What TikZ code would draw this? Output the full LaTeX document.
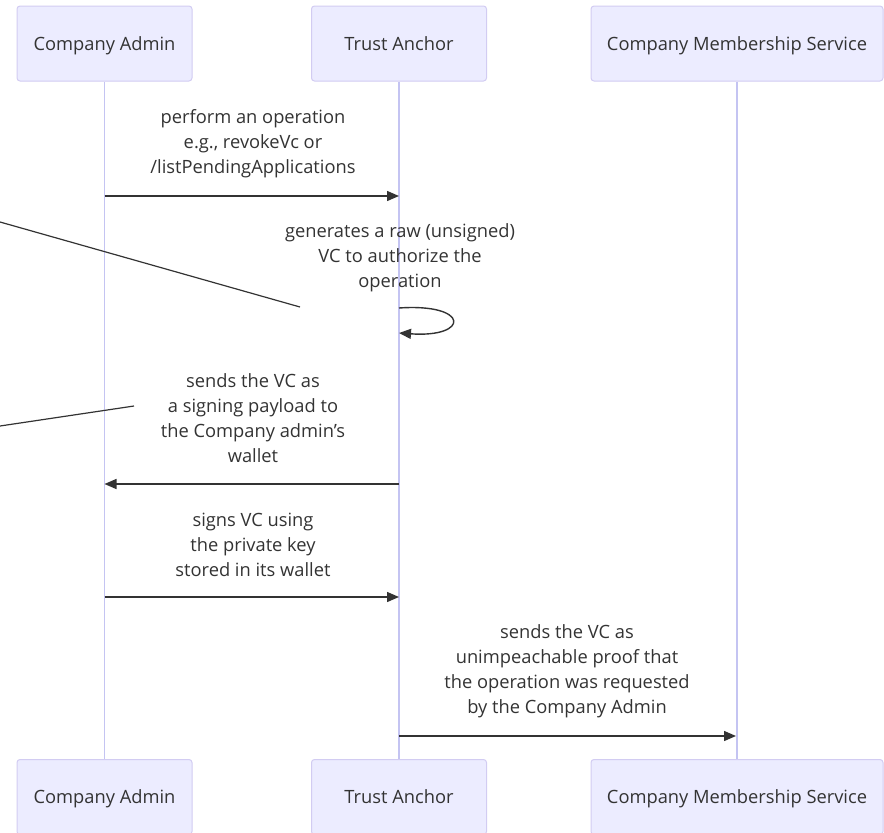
\documentclass[tikz,border=0pt]{standalone}
\usepackage{fontspec}
\setmainfont{Open Sans}
\usetikzlibrary{arrows.meta}
\definecolor{actorfill}{HTML}{ECECFF}
\definecolor{actorline}{HTML}{D2CCF2}
\definecolor{lifeline}{HTML}{C4C4F2}
\definecolor{ink}{HTML}{333333}
\tikzset{
  actor/.style={draw=actorline, fill=actorfill, line width=1pt, rounded corners=3pt,
    text=ink, font=\fontsize{18.3}{22}\selectfont, inner sep=0pt,
    text height=14pt, text depth=1pt},
  life/.style={draw=lifeline, line width=1.6pt},
  msg/.style={draw=ink, line width=1.4pt, -{Triangle[length=12pt,width=10pt]}},
  note/.style={draw=ink, line width=1.2pt},
  lbl/.style={text=ink, font=\fontsize{18.3}{25}\selectfont, align=center, inner sep=0pt}
}
\begin{document}
\begin{tikzpicture}[x=1pt,y=-1pt]
\useasboundingbox (0,0) rectangle (884,833);
% participants, top row
\node[actor, minimum width=175pt, minimum height=75pt] (a1) at (104.5,43.5) {Company Admin};
\node[actor, minimum width=175pt, minimum height=75pt] (t1) at (399,43.5) {Trust Anchor};
\node[actor, minimum width=292pt, minimum height=75pt] (m1) at (737,43.5) {Company Membership Service};
% participants, bottom row
\node[actor, minimum width=175pt, minimum height=75pt] (a2) at (104.5,797) {Company Admin};
\node[actor, minimum width=175pt, minimum height=75pt] (t2) at (399,797) {Trust Anchor};
\node[actor, minimum width=292pt, minimum height=75pt] (m2) at (737,797) {Company Membership Service};
% lifelines
\draw[life] (a1.south) -- (a2.north);
\draw[life] (t1.south) -- (t2.north);
\draw[life] (m1.south) -- (m2.north);
% message anchors on the lifelines
\coordinate (s1) at (104.5,196);  \coordinate (e1) at (399,196);
\coordinate (s2) at (399,308);    \coordinate (e2) at (399,333);
\coordinate (s3) at (399,484);    \coordinate (e3) at (104.5,484);
\coordinate (s4) at (104.5,597);  \coordinate (e4) at (399,597);
\coordinate (s5) at (399,736);    \coordinate (e5) at (736,736);
% messages
\node[lbl] (l1) at (253,143.5) {perform an operation\\e.g., revokeVc or\\/listPendingApplications};
\draw[msg] (s1) -- (e1);
\node[lbl] (l2) at (400,258) {generates a raw (unsigned)\\VC to authorize the\\operation};
\draw[msg] (s2) .. controls (470,303) and (470,338) .. (e2);
\node[lbl] (l3) at (253,418) {sends the VC as\\a signing payload to\\the Company admin's\\wallet};
\draw[msg] (s3) -- (e3);
\node[lbl] (l4) at (253,545) {signs VC using\\the private key\\stored in its wallet};
\draw[msg] (s4) -- (e4);
\node[lbl] (l5) at (567,671) {sends the VC as\\unimpeachable proof that\\the operation was requested\\by the Company Admin};
\draw[msg] (s5) -- (e5);
% loose pointer lines
\coordinate (p1a) at (0,222);  \coordinate (p1b) at (300,307);
\coordinate (p2a) at (0,426);  \coordinate (p2b) at (134,406);
\draw[note] (p1a) -- (p1b);
\draw[note] (p2a) -- (p2b);
\end{tikzpicture}
\end{document}
